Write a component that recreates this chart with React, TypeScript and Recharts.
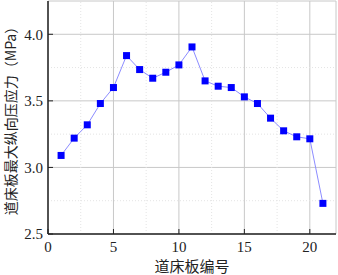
import React from 'react';
import { LineChart, Line, XAxis, YAxis, CartesianGrid, ReferenceLine, Label } from 'recharts';

const slabNo = [1, 2, 3, 4, 5, 6, 7, 8, 9, 10, 11, 12, 13, 14, 15, 16, 17, 18, 19, 20, 21];
const stress = [3.09, 3.22, 3.32, 3.48, 3.6, 3.84, 3.735, 3.67, 3.715, 3.77, 3.905, 3.65, 3.61, 3.6, 3.53, 3.48, 3.37, 3.275, 3.23, 3.215, 2.73];
const xTicks = [0, 5, 10, 15, 20];
const yTicks = [2.5, 3.0, 3.5, 4.0];
const xMinor = [2.5, 7.5, 12.5, 17.5];
const yMinor = [2.75, 3.25, 3.75];
const xLabel = '道床板编号';
const yLabel = '道床板最大纵向压应力（MPa）';

const data = slabNo.map((n, i) => ({ n, v: stress[i] }));

const Square = (props: any) => {
  const { cx, cy } = props;
  if (cx == null || cy == null) return null;
  return <rect x={cx - 3.5} y={cy - 3.5} width={7} height={7} fill="#0000ff" />;
};

export default function App() {
  const tickStyle = { fontFamily: '"Liberation Serif", "DejaVu Serif", serif', fontSize: 15, fill: '#222' };
  return (
    <div style={{ position: 'absolute', left: 0, top: 0, width: 338, height: 275, background: '#fff' }}>
      <LineChart width={338} height={275} data={data} margin={{ top: 1, right: 2, left: 0, bottom: 0 }}>
        <CartesianGrid stroke="#c8c8c8" strokeWidth={1} />
        {xMinor.map((x) => (
          <ReferenceLine key={'x' + x} x={x} stroke="#e4e4e4" strokeDasharray="1 2" />
        ))}
        {yMinor.map((y) => (
          <ReferenceLine key={'y' + y} y={y} stroke="#e4e4e4" strokeDasharray="1 2" />
        ))}
        <XAxis
          dataKey="n"
          type="number"
          domain={[0, 22]}
          ticks={xTicks}
          allowDataOverflow
          height={41}
          tickSize={-5}
          tickMargin={12}
          tick={tickStyle}
          axisLine={{ stroke: '#222', strokeWidth: 1.5 }}
          tickLine={{ stroke: '#222' }}
        >
          <Label
            value={xLabel}
            position="insideBottom"
            offset={3}
            style={{ fontFamily: '"Noto Sans CJK SC"', fontSize: 15, fill: '#222' }}
          />
        </XAxis>
        <YAxis
          type="number"
          domain={[2.5, 4.25]}
          ticks={yTicks}
          allowDataOverflow
          width={48}
          tickSize={-5}
          tickMargin={10}
          tickFormatter={(v: number) => v.toFixed(1)}
          tick={tickStyle}
          axisLine={{ stroke: '#222', strokeWidth: 1.5 }}
          tickLine={{ stroke: '#222' }}
        >
          <Label
            value={yLabel}
            angle={-90}
            position="insideLeft"
            offset={11}
            style={{ fontFamily: '"Noto Sans CJK SC"', fontSize: 14, fill: '#222', textAnchor: 'middle' }}
          />
        </YAxis>
        <Line
          dataKey="v"
          stroke="#8c8cff"
          strokeWidth={1}
          dot={<Square />}
          activeDot={false}
          isAnimationActive={false}
        />
      </LineChart>
    </div>
  );
}
